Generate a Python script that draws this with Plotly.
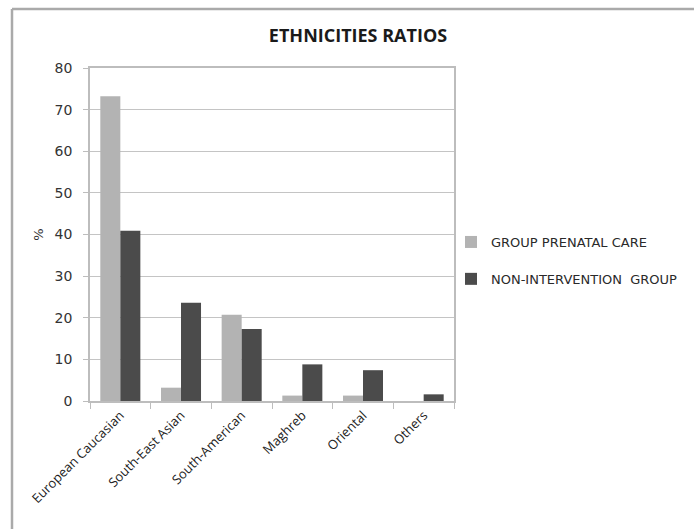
import plotly.graph_objects as go

categories = ["European Caucasian", "South-East Asian", "South-American", "Maghreb", "Oriental", "Others"]
prenatal = [73.2, 3.2, 20.7, 1.3, 1.3, 0.0]
non_intervention = [40.9, 23.6, 17.3, 8.8, 7.4, 1.6]
series_names = ["GROUP PRENATAL CARE", "NON-INTERVENTION\u00a0\u00a0GROUP"]
y_ticks = [0, 10, 20, 30, 40, 50, 60, 70, 80]

W, H = 694, 529
L, R, T, B = 90, 240, 68, 128
pw, ph = W - L - R, H - T - B

def px_x(x):
    return (x - L) / pw

def px_y(y):
    return (H - B - y) / ph

fig = go.Figure()
fig.add_trace(go.Bar(x=categories, y=prenatal, name=series_names[0],
                     marker=dict(color="#b3b3b3", line=dict(width=0)), legendgroup="a"))
fig.add_trace(go.Bar(x=categories, y=non_intervention, name=series_names[1],
                     marker=dict(color="#4b4b4b", line=dict(width=0)), legendgroup="b"))

fig.update_layout(
    width=W, height=H,
    margin=dict(l=L, r=R, t=T, b=B, pad=0, autoexpand=False),
    paper_bgcolor="white", plot_bgcolor="white",
    barmode="group", bargap=0.34, bargroupgap=0,
    title=dict(text="<b>ETHNICITIES RATIOS</b>", x=px_x(358), xref="paper", xanchor="center",
               y=1 - 36 / H, yanchor="middle",
               font=dict(family="Open Sans", size=18, color="#1a1a1a")),
    legend=dict(x=px_x(451), y=px_y(227), xanchor="left", yanchor="top",
                font=dict(family="DejaVu Sans", size=13, color="#2a2a2a"),
                traceorder="grouped", tracegroupgap=17, bgcolor="rgba(0,0,0,0)"),
    showlegend=True,
)
fig.update_xaxes(
    type="category", tickangle=-45, showgrid=False,
    showline=True, linecolor="#bdbdbd", linewidth=1.5, mirror=True,
    ticks="outside", tickson="boundaries", ticklen=6, tickcolor="#bdbdbd",
    tickfont=dict(family="Open Sans", size=13, color="#222"),
)
fig.update_yaxes(
    range=[0, 80], tickvals=y_ticks, showgrid=True, gridcolor="#c4c4c4", gridwidth=1.2,
    showline=True, linecolor="#bdbdbd", linewidth=1.5, mirror=True,
    ticks="outside", ticklen=5, tickcolor="#bdbdbd", ticklabelstandoff=8,
    tickfont=dict(family="DejaVu Sans", size=14, color="#333"),
    title=dict(text="%", font=dict(family="DejaVu Sans", size=13, color="#333"), standoff=8),
    zeroline=False,
)
# outer chart frame (top and left edges visible in the reference)
fig.add_shape(type="line", xref="paper", yref="paper",
              x0=px_x(12), x1=px_x(W + 5), y0=px_y(9), y1=px_y(9),
              line=dict(color="#aaaaaa", width=2.5))
fig.add_shape(type="line", xref="paper", yref="paper",
              x0=px_x(12), x1=px_x(12), y0=px_y(9), y1=px_y(H + 5),
              line=dict(color="#aaaaaa", width=2.5))

fig.write_html("out.html")
